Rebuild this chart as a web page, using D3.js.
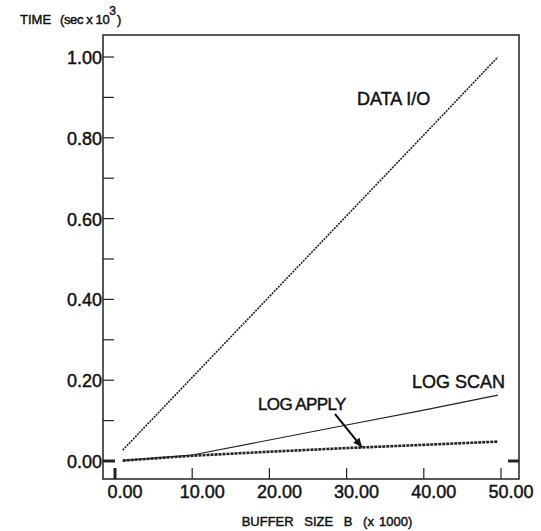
<!DOCTYPE html>
<html>
<head>
<meta charset="utf-8">
<script src="https://cdn.jsdelivr.net/npm/d3@7"></script>
<style>
  body { margin: 0; background: #fff; }
  svg text { font-family: "Liberation Sans", Arial, sans-serif; fill: #111; stroke: #111; stroke-width: 0.45; }
</style>
</head>
<body>
<div id="chart"></div>
<script>
// values (buffer size in thousands, time in sec x 10^3)
const bufferSize = [1, 10, 20, 30, 40, 49.6];
const dataIO    = [0.027, 0.207, 0.407, 0.607, 0.807, 1.0];
const logScan   = [0.001, 0.015, 0.052, 0.089, 0.126, 0.163];
const logApply  = [0.001, 0.013, 0.023, 0.032, 0.040, 0.048];
const xTicks = [0, 10, 20, 30, 40, 50];
const yTicks = [0, 0.2, 0.4, 0.6, 0.8, 1.0];
const yMinor = [0.1, 0.3, 0.5, 0.7, 0.9];

const width = 541, height = 531;
const box = {left: 103, top: 35, right: 519, bottom: 479};

const svg = d3.select("#chart").append("svg")
    .attr("width", width)
    .attr("height", height);

const x = d3.scaleLinear().domain([0, 50]).range([115, 501]);
const y = d3.scaleLinear().domain([0, 1]).range([461, 57]);

// frame
svg.append("rect")
    .attr("x", box.left).attr("y", box.top)
    .attr("width", box.right - box.left).attr("height", box.bottom - box.top)
    .attr("fill", "none").attr("stroke", "#222").attr("stroke-width", 1.5);

// x ticks (pointing inward from bottom)
svg.selectAll(".xt").data(xTicks).enter().append("line")
    .attr("x1", d => x(d)).attr("x2", d => x(d))
    .attr("y1", box.bottom).attr("y2", box.bottom - 11)
    .attr("stroke", "#222").attr("stroke-width", d => d === 0 ? 3 : 1.2);

svg.selectAll(".xl").data(xTicks).enter().append("text")
    .attr("x", d => x(d) + 10).attr("y", 498)
    .attr("text-anchor", "middle")
    .attr("font-size", 18)
    .text(d => d3.format(".2f")(d));

// y ticks
svg.selectAll(".yt").data(yTicks.concat(yMinor)).enter().append("line")
    .attr("x1", box.left).attr("x2", d => d === 0 ? box.left + 12 : box.left + 11)
    .attr("y1", d => y(d)).attr("y2", d => y(d))
    .attr("stroke", "#222").attr("stroke-width", d => d === 0 ? 3 : 1.2);

// matching mark on the right side at zero
svg.append("line")
    .attr("x1", box.right - 11).attr("x2", box.right)
    .attr("y1", y(0)).attr("y2", y(0))
    .attr("stroke", "#222").attr("stroke-width", 3);

svg.selectAll(".yl").data(yTicks).enter().append("text")
    .attr("x", box.left - 1).attr("y", d => y(d) + 7)
    .attr("text-anchor", "end")
    .attr("font-size", 18)
    .text(d => d3.format(".2f")(d));

// axis titles
const yTitle = svg.append("text")
    .attr("x", 20).attr("y", 24)
    .attr("font-size", 13);
yTitle.append("tspan").text("TIME");
yTitle.append("tspan").attr("dx", 9).attr("letter-spacing", -0.4).text("(sec x 10");
yTitle.append("tspan").attr("dx", 0).attr("dy", -9).attr("font-size", 12).text("3");
yTitle.append("tspan").attr("dx", 1).attr("dy", 9).text(")");

svg.append("text")
    .attr("x", 327).attr("y", 526)
    .attr("text-anchor", "middle")
    .attr("font-size", 13)
    .attr("word-spacing", 7)
    .text("BUFFER SIZE B (x\u2009\u20091000)");

// series
const line = vals => d3.line()
    .x((d, i) => x(bufferSize[i]))
    .y(d => y(d))(vals);

svg.append("path").attr("d", line(dataIO))
    .attr("fill", "none").attr("stroke", "#222")
    .attr("stroke-width", 1.6).attr("stroke-dasharray", "2,1");

svg.append("path").attr("d", line(logScan))
    .attr("fill", "none").attr("stroke", "#222").attr("stroke-width", 1.1);

svg.append("path").attr("d", line(logApply))
    .attr("fill", "none").attr("stroke", "#222")
    .attr("stroke-width", 2.6).attr("stroke-dasharray", "3,1");

// labels
svg.append("text").attr("x", 357).attr("y", 105)
    .attr("font-size", 18).text("DATA I/O");
svg.append("text").attr("x", 412).attr("y", 388)
    .attr("font-size", 18).text("LOG SCAN");
svg.append("text").attr("x", 258).attr("y", 410)
    .attr("font-size", 17).attr("letter-spacing", -0.6).text("LOG APPLY");

// arrow to LOG APPLY
const ax1 = 335, ay1 = 414, ax2 = x(32), ay2 = y(0.034);
svg.append("line")
    .attr("x1", ax1).attr("y1", ay1).attr("x2", ax2).attr("y2", ay2)
    .attr("stroke", "#111").attr("stroke-width", 2);
const ang = Math.atan2(ay2 - ay1, ax2 - ax1);
const hl = 9, hw = 4;
const pts = [
  [ax2, ay2],
  [ax2 - hl * Math.cos(ang) + hw * Math.sin(ang), ay2 - hl * Math.sin(ang) - hw * Math.cos(ang)],
  [ax2 - hl * Math.cos(ang) - hw * Math.sin(ang), ay2 - hl * Math.sin(ang) + hw * Math.cos(ang)]
];
svg.append("path").attr("d", "M" + pts.join("L") + "Z").attr("fill", "#111");
</script>
</body>
</html>
